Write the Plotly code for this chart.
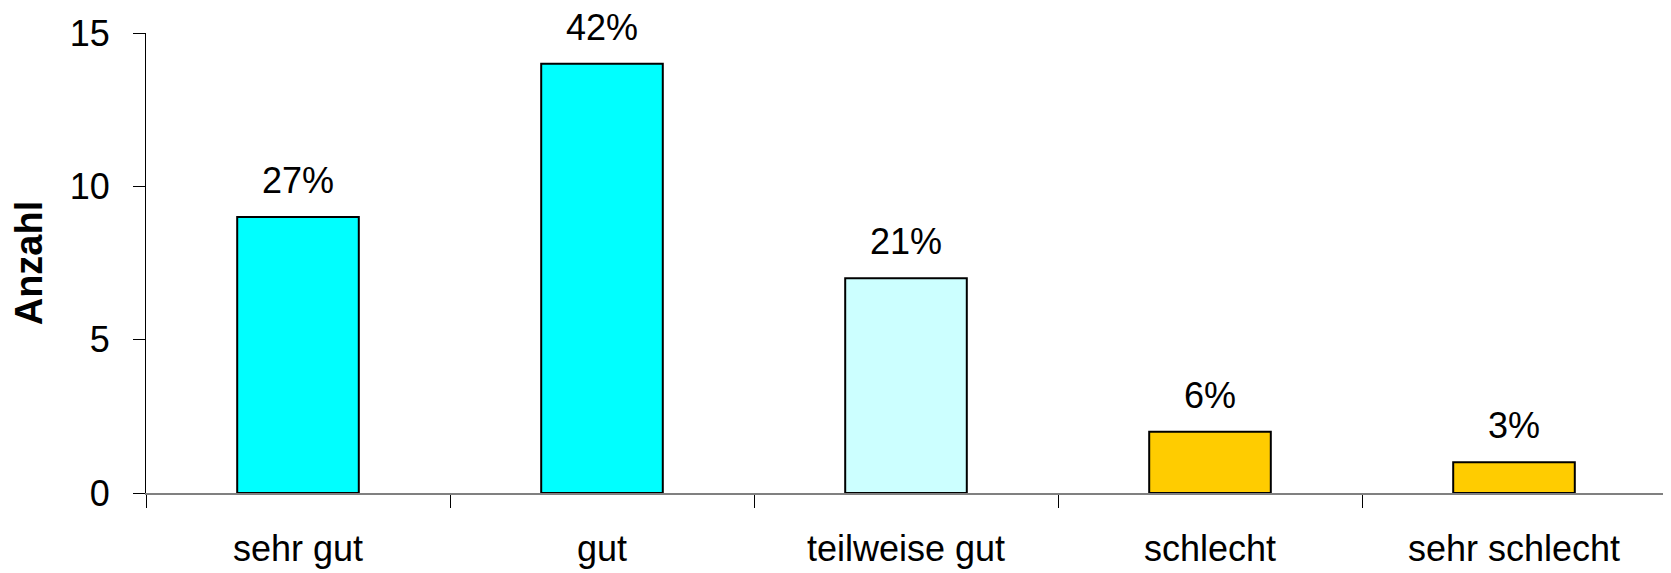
import plotly.graph_objects as go

categories = ["sehr gut", "gut", "teilweise gut", "schlecht", "sehr schlecht"]
counts = [9, 14, 7, 2, 1]
percent_labels = ["27%", "42%", "21%", "6%", "3%"]
bar_colors = ["#00FFFF", "#00FFFF", "#CCFFFF", "#FFCC00", "#FFCC00"]
y_ticks = [0, 5, 10, 15]

FONT = "Liberation Sans, Arial, sans-serif"

fig = go.Figure()
fig.add_trace(go.Bar(
    x=categories, y=counts, width=0.4,
    marker=dict(color=bar_colors, line=dict(color="black", width=2)),
    showlegend=False, hoverinfo="skip",
))

for c, v, t in zip(categories, counts, percent_labels):
    fig.add_annotation(x=c, y=v, text=t, showarrow=False, yanchor="bottom",
                       yshift=14, font=dict(family=FONT, size=36, color="black"))

fig.update_layout(
    width=1671, height=573,
    margin=dict(l=138, r=13, t=25, b=88, autoexpand=False),
    paper_bgcolor="white", plot_bgcolor="white",
    font=dict(family=FONT, size=36, color="black"),
    bargap=0.6,
)
fig.update_xaxes(
    showline=True, linecolor="#808080", linewidth=1.5,
    ticks="outside", tickson="boundaries", ticklen=13, tickcolor="black", tickwidth=1,
    ticklabelstandoff=23, showgrid=False, zeroline=False, automargin=False,
    tickfont=dict(family=FONT, size=36),
)
fig.update_yaxes(
    range=[0, 15], tickvals=y_ticks, showline=True, linecolor="black", linewidth=1,
    ticks="outside", ticklen=12, tickcolor="black", showgrid=False, zeroline=False,
    ticklabelstandoff=16, automargin=False,
    title=dict(text="<b>Anzahl</b>", font=dict(family=FONT, size=38), standoff=25),
    tickfont=dict(family=FONT, size=36),
)

fig.write_html("out.html")
